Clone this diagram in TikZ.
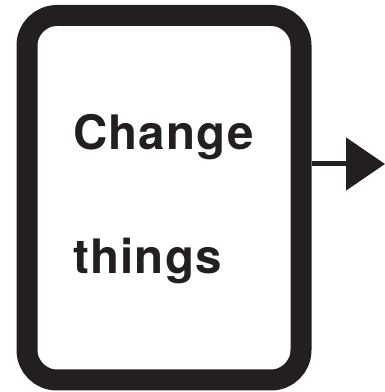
\documentclass[tikz,border=0pt]{standalone}
\usepackage{fontspec}
\usepackage{tikz}
\usetikzlibrary{arrows.meta}
\newfontfamily\herosfont[LetterSpace=2.5]{TeX Gyre Heros}
\definecolor{inkblack}{HTML}{231F20}

\begin{document}
\begin{tikzpicture}[x=1pt, y=1pt,
	box/.style={draw=inkblack, line width=21pt, rounded corners=30pt, minimum width=274pt, minimum height=364.5pt, inner sep=0pt},
	word/.style={inner sep=0pt, text=inkblack, font=\herosfont\bfseries\fontsize{47.5}{50}\selectfont}]
			\useasboundingbox (0,0) rectangle (385,392);
			\node[box] (box) at (164,194.25){};
			\node[word, anchor=base west] (change) at (73,242){Change};
			\node[word, anchor=base west] (things) at (73,118){things};
			\coordinate (tip) at (385,228);
			
			\draw[inkblack, line width=5pt, -{Triangle[length=39pt, width=52pt]}] (box.east |- tip) -- (tip);
			\end{tikzpicture}
\end{document}
